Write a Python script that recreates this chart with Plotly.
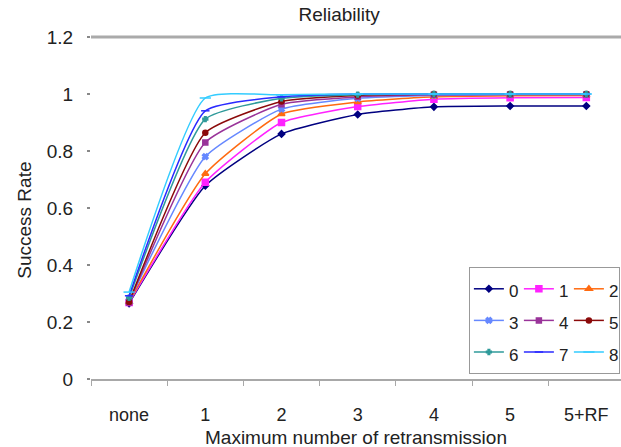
import plotly.graph_objects as go

# Retransmission limits on the x axis
categories = ["none", "1", "2", "3", "4", "5", "5+RF"]
series_names = ["0", "1", "2", "3", "4", "5", "6", "7", "8"]

# Success rate per series
rate_0 = [0.265, 0.678, 0.860, 0.928, 0.955, 0.958, 0.958]
rate_1 = [0.268, 0.690, 0.900, 0.956, 0.982, 0.987, 0.988]
rate_2 = [0.270, 0.720, 0.930, 0.972, 0.990, 0.994, 0.995]
rate_3 = [0.272, 0.780, 0.947, 0.985, 0.995, 0.998, 0.998]
rate_4 = [0.268, 0.830, 0.964, 0.990, 0.997, 0.998, 0.998]
rate_5 = [0.270, 0.864, 0.974, 0.995, 1.000, 1.000, 1.000]
rate_6 = [0.285, 0.912, 0.985, 0.998, 1.000, 1.000, 1.000]
rate_7 = [0.292, 0.941, 0.990, 1.000, 1.000, 1.000, 1.000]
rate_8 = [0.305, 0.986, 0.997, 1.000, 1.000, 1.000, 1.000]
all_rates = [rate_0, rate_1, rate_2, rate_3, rate_4, rate_5, rate_6, rate_7, rate_8]

y_ticks = [0, 0.2, 0.4, 0.6, 0.8, 1, 1.2]
y_tick_text = ["0", "0.2", "0.4", "0.6", "0.8", "1", "1.2"]

colors = ["#000080", "#ff22ff", "#ff6a10", "#6688ff", "#993399",
          "#8b0a0a", "#2f9a9a", "#2a2aff", "#33ccff"]
symbols = ["diamond", "square", "triangle-up", "x", "square",
           "circle", "cross", "line-ew-open", "line-ew-open"]
sizes = [5, 6, 6, 5, 5, 5, 4, 6, 8]

FONT = "Liberation Sans, Arial, sans-serif"

fig = go.Figure()
for i, (name, rates, col, sym, sz) in enumerate(
        zip(series_names, all_rates, colors, symbols, sizes)):
    fig.add_trace(go.Scatter(
        x=categories, y=rates,
        name=f'<span style="font-size:17px">{name}</span>',
        legendgroup=f"col{i % 3}",
        mode="lines+markers",
        line=dict(color=col, width=1.5, shape="spline", smoothing=0.5),
        marker=dict(symbol=sym, size=sz, color=col,
                    line=dict(color=col, width=1.5)),
    ))

# heavy rule across the top of the plot area
fig.add_shape(type="line", xref="paper", x0=0, x1=1, yref="paper", y0=1, y1=1,
              line=dict(color="#aaaaaa", width=3), layer="below")

# axis titles
fig.add_annotation(text="Success Rate", textangle=-90, showarrow=False,
                   xref="paper", x=-0.125, xanchor="center",
                   yref="paper", y=0.465, yanchor="middle",
                   font=dict(size=19, color="#222222"))
fig.add_annotation(text="Maximum number of retransmission", showarrow=False,
                   xref="paper", x=0.5, xanchor="center",
                   yref="paper", y=-0.172, yanchor="middle",
                   font=dict(size=19, color="#222222"))

fig.update_layout(
    width=621, height=447,
    margin=dict(l=91, r=0, t=37, b=68),
    paper_bgcolor="white", plot_bgcolor="white",
    font=dict(family=FONT, color="#222222"),
    title=dict(text="Reliability", x=0.546, xref="container", xanchor="center",
               y=0.968, yref="container", yanchor="middle",
               font=dict(size=19, color="#222222")),
    xaxis=dict(type="category", range=[-0.5, 6.455],
               showline=True, linecolor="#a8a8a8", linewidth=2,
               ticks="outside", tickson="boundaries", ticklen=5, tickcolor="#a8a8a8",
               tickfont=dict(size=18), ticklabelstandoff=18,
               showgrid=False, zeroline=False),
    yaxis=dict(range=[0, 1.2], tickvals=y_ticks, ticktext=y_tick_text,
               showline=False, showgrid=False, zeroline=False,
               ticks="outside", ticklen=3, tickwidth=2, tickcolor="#888888",
               tickfont=dict(size=19), ticklabelstandoff=10),
    legend=dict(orientation="h", x=0.713, xanchor="left", y=0.3275, yanchor="top",
                entrywidthmode="pixels", entrywidth=5, itemwidth=30,
                bgcolor="white", bordercolor="#999999", borderwidth=1,
                font=dict(size=22), traceorder="grouped"),
    showlegend=True,
)

fig.write_html("out.html")
